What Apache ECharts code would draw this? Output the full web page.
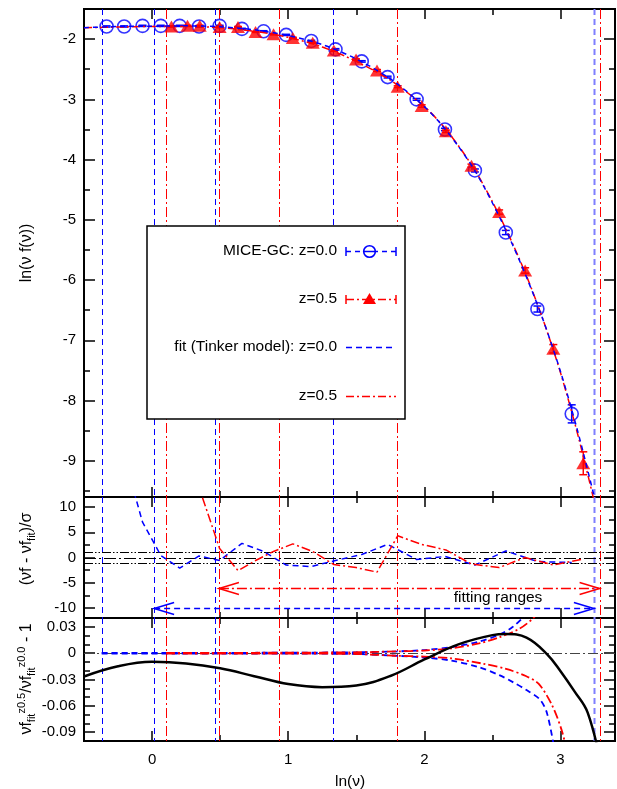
<!DOCTYPE html>
<html><head><meta charset="utf-8">
<script src="https://cdn.jsdelivr.net/npm/echarts@6/dist/echarts.min.js"></script>
<style>html,body{margin:0;padding:0;background:#fff}#c{width:617px;height:789px}</style>
</head><body><div id="c"></div>
<script>
// ---------- data ----------
const circX = [-0.334,-0.205,-0.070,0.064,0.203,0.345,0.496,0.660,0.819,0.985,1.169,1.347,1.540,1.730,1.943,2.151,2.371,2.598,2.830,3.082];
const circY = [-1.79,-1.79,-1.78,-1.78,-1.78,-1.79,-1.78,-1.83,-1.87,-1.93,-2.03,-2.17,-2.37,-2.63,-3.00,-3.50,-4.18,-5.21,-6.48,-8.22];
const circErr = [0.01,0.01,0.01,0.01,0.01,0.01,0.01,0.01,0.01,0.01,0.01,0.012,0.012,0.015,0.015,0.02,0.025,0.035,0.05,0.15];
const triX = [0.142,0.260,0.350,0.496,0.631,0.760,0.892,1.034,1.180,1.335,1.498,1.652,1.804,1.980,2.158,2.346,2.549,2.740,2.947,3.167];
const triY = [-1.79,-1.78,-1.78,-1.80,-1.80,-1.88,-1.92,-1.98,-2.06,-2.19,-2.34,-2.52,-2.79,-3.11,-3.53,-4.10,-4.87,-5.84,-7.14,-9.04];
const triErr = [0.01,0.01,0.01,0.01,0.01,0.01,0.01,0.01,0.01,0.012,0.012,0.015,0.015,0.02,0.02,0.025,0.035,0.045,0.07,0.19];
const fitX = [-0.5,-0.25,0,0.25,0.5,0.75,1.0,1.25,1.5,1.75,2.0,2.125,2.25,2.375,2.5,2.625,2.75,2.875,3.0,3.125,3.25,3.35];
const fitZ0 = [-1.81,-1.79,-1.785,-1.78,-1.795,-1.845,-1.94,-2.09,-2.33,-2.66,-3.12,-3.42,-3.78,-4.20,-4.72,-5.30,-5.95,-6.68,-7.52,-8.50,-9.62,-10.6];
const fitZ05 = [-1.81,-1.80,-1.79,-1.79,-1.81,-1.87,-1.97,-2.13,-2.37,-2.68,-3.12,-3.41,-3.77,-4.19,-4.70,-5.28,-5.93,-6.68,-7.54,-8.55,-9.70,-10.7];
const residZ0 = [30,20,7,0.4,-2.1,0.3,-0.6,2.8,1.2,-1.5,-1.8,-0.6,0.6,2.6,-0.4,0.2,-1.5,1.3,-0.8,-1.0];
const residZ05 = [45,28,13.5,1.8,-2.6,-0.6,1.2,2.7,1.2,-1.4,-2.0,-2.9,4.3,2.6,1.5,-1.3,-2.0,0.0,-1.5,-0.3];
const ratioX = [-0.5,-0.25,0,0.25,0.5,0.75,1.0,1.25,1.5,1.75,2.0,2.25,2.5,2.6,2.75,2.9,3.0,3.1,3.2,3.3];
const ratioY = [-0.0266,-0.0150,-0.0099,-0.0117,-0.0172,-0.0262,-0.0352,-0.0387,-0.0368,-0.0260,-0.0072,0.0100,0.0205,0.0217,0.0177,-0.001,-0.0205,-0.043,-0.068,-0.13];
const envZ0UpX = [-0.37,0.5,1.0,1.5,1.8,2.0,2.2,2.4,2.55,2.65,2.75,2.85];
const envZ0Up = [0.0004,0.0004,0.0005,0.001,0.002,0.0035,0.007,0.013,0.021,0.030,0.045,0.065];
const envZ0LoX = [-0.37,0.5,1.0,1.5,1.8,2.0,2.2,2.4,2.55,2.65,2.75,2.85,2.9,2.95];
const envZ0Lo = [-0.0004,-0.0004,-0.0005,-0.001,-0.003,-0.005,-0.0085,-0.016,-0.025,-0.033,-0.042,-0.053,-0.068,-0.105];
const envZ05UpX = [0.103,0.5,1.0,1.5,1.8,2.0,2.2,2.4,2.55,2.7,2.8,2.9];
const envZ05Up = [0.0004,0.0004,0.0005,0.001,0.002,0.003,0.0055,0.011,0.018,0.028,0.040,0.058];
const envZ05LoX = [0.103,0.5,1.0,1.5,1.8,2.0,2.2,2.43,2.6,2.745,2.84,2.94,3.013,3.05];
const envZ05Lo = [-0.0004,-0.0004,-0.0005,-0.001,-0.003,-0.004,-0.006,-0.012,-0.018,-0.026,-0.035,-0.060,-0.090,-0.115];
const linesZ0 = [-0.371,0.015,0.465,1.327];
const lineZ0End = [3.245];
const linesZ05 = [0.103,0.491,0.931,1.801,3.287];
const rangeZ0 = [0.015,3.245,-10];
const rangeZ05 = [0.491,3.287,-6];
const xMajor = [0,1,2,3], xMinor = [0.5,1.5,2.5];
const y0Major = [-9,-8,-7,-6,-5,-4,-3,-2], y0Minor = [-9.5,-8.5,-7.5,-6.5,-5.5,-4.5,-3.5,-2.5];
const y1Major = [-10,-5,0,5,10], y1Minor = [-7.5,-2.5,2.5,7.5];
const y2Major = [-0.09,-0.06,-0.03,0,0.03], y2Minor = [-0.08,-0.07,-0.05,-0.04,-0.02,-0.01,0.01,0.02];

// ---------- helpers ----------
const FONT = 'Liberation Sans';
const BLUE = '#0000ff', RED = '#ff0000';
const DASH = [6,4], DASHDOT = [9,3,2,3];
const zip = (a, b) => a.map((v, i) => [v, b[i]]);
const grids = [
  {left:84, right:2, top:9, height:488},
  {left:84, right:2, top:497, height:121},
  {left:84, right:2, top:618, height:123}
].map(g => Object.assign(g, {show:true, borderColor:'#000', borderWidth:2, backgroundColor:'transparent', outerBoundsMode:'none'}));
const yr = [[-9.6,-1.5],[-12,12],[-0.1,0.04]];
const yTicks = [[y0Major,y0Minor],[y1Major,y1Minor],[y2Major,y2Minor]];
const yFmt = [v => String(v), v => String(v), v => v === 0 ? '0' : v.toFixed(2)];
const tickStyle = {color:'#000', width:1.5};
const lbl = {color:'#000', fontSize:15, fontFamily:FONT};
const xAxes = [], yAxes = [];
for (let g = 0; g < 3; g++) {
  [['bottom', xMajor, 10, g === 2], ['bottom', xMinor, 6, false], ['top', xMajor, 10, false], ['top', xMinor, 6, false]].forEach(([pos, vals, len, show]) => {
    xAxes.push({type:'value', gridIndex:g, position:pos, min:-0.5, max:3.4,
      axisLine:{show:false, onZero:false}, splitLine:{show:false},
      axisTick:{show:true, inside:true, length:len, customValues:vals, lineStyle:tickStyle},
      axisLabel:Object.assign({show:show, customValues:vals, margin:11}, lbl)});
  });
  [['left', yTicks[g][0], 11, true], ['left', yTicks[g][1], 6, false], ['right', yTicks[g][0], 11, false], ['right', yTicks[g][1], 6, false]].forEach(([pos, vals, len, show]) => {
    yAxes.push({type:'value', gridIndex:g, position:pos, min:yr[g][0], max:yr[g][1],
      axisLine:{show:false, onZero:false}, splitLine:{show:false},
      axisTick:{show:true, inside:true, length:len, customValues:vals, lineStyle:tickStyle},
      axisLabel:Object.assign({show:show, customValues:vals, margin:8, formatter:yFmt[g]}, lbl)});
  });
}
function vlines(g, vals, color, dash, width) {
  return {type:'custom', xAxisIndex:4*g, yAxisIndex:4*g, silent:true, z:1, clip:true,
    data: vals.map(v => [v, yr[g][0]]),
    renderItem: (p, api) => {
      const cs = p.coordSys; const x = Math.round(api.coord([api.value(0), yr[g][0]])[0]) + 0.5;
      return {type:'line', shape:{x1:x, y1:cs.y, x2:x, y2:cs.y + cs.height}, style:{stroke:color, lineWidth:width, lineDash:dash}};
    }};
}
function hlines(g, vals, color, dash, width) {
  return {type:'custom', xAxisIndex:4*g, yAxisIndex:4*g, silent:true, z:1, clip:true,
    data: vals.map(v => [0, v]),
    renderItem: (p, api) => {
      const cs = p.coordSys; const y = Math.round(api.coord([0, api.value(1)])[1]) + 0.5;
      return {type:'line', shape:{x1:cs.x, y1:y, x2:cs.x + cs.width, y2:y}, style:{stroke:color, lineWidth:width, lineDash:dash}};
    }};
}
function errbars(xs, ys, es, color) {
  return {type:'custom', xAxisIndex:0, yAxisIndex:0, silent:true, z:3, clip:true,
    data: xs.map((x, i) => [x, ys[i], es[i]]),
    renderItem: (p, api) => {
      const x = api.value(0), y = api.value(1), e = api.value(2);
      const a = api.coord([x, y + e]), b = api.coord([x, y - e]); const w = 4;
      const st = {stroke:color, lineWidth:1.5};
      return {type:'group', children:[
        {type:'line', shape:{x1:a[0], y1:a[1], x2:b[0], y2:b[1]}, style:st},
        {type:'line', shape:{x1:a[0]-w, y1:a[1], x2:a[0]+w, y2:a[1]}, style:st},
        {type:'line', shape:{x1:b[0]-w, y1:b[1], x2:b[0]+w, y2:b[1]}, style:st}]};
    }};
}
function arrow(r, color, dash) {
  return {type:'custom', xAxisIndex:4, yAxisIndex:4, silent:true, z:4, clip:false,
    encode:{x:[0,1], y:2}, data:[r],
    renderItem: (p, api) => {
      const a = api.coord([api.value(0), api.value(2)]), b = api.coord([api.value(1), api.value(2)]);
      const y = Math.round(a[1]) + 0.5, L = 20, H = 6;
      const st = {stroke:color, lineWidth:1.5};
      return {type:'group', children:[
        {type:'line', shape:{x1:a[0], y1:y, x2:b[0], y2:y}, style:{stroke:color, lineWidth:1.5, lineDash:dash}},
        {type:'polyline', shape:{points:[[a[0]+L, y-H],[a[0], y],[a[0]+L, y+H]]}, style:Object.assign({fill:'none'}, st)},
        {type:'polyline', shape:{points:[[b[0]-L, y-H],[b[0], y],[b[0]-L, y+H]]}, style:Object.assign({fill:'none'}, st)}]};
    }};
}
function curve(g, xs, ys, color, dash, width, z, smooth) {
  return {type:'line', xAxisIndex:4*g, yAxisIndex:4*g, data:zip(xs, ys), showSymbol:false, symbol:'none',
    smooth:smooth, silent:true, z:z, clip:true, lineStyle:{color:color, width:width, type:dash}};
}

const series = [];
for (let g = 0; g < 3; g++) {
  series.push(vlines(g, linesZ0, BLUE, [6,4], 1));
  series.push(vlines(g, lineZ0End, '#7f7fff', [6,4], 2));
  series.push(vlines(g, linesZ05, RED, [10,3,2,3], 1));
}
// top panel
series.push(errbars(circX, circY, circErr, BLUE));
series.push({type:'scatter', xAxisIndex:0, yAxisIndex:0, data:zip(circX, circY), symbol:'circle', symbolSize:13, z:3, silent:true,
  itemStyle:{color:'rgba(0,0,0,0)', borderColor:BLUE, borderWidth:1.6}});
series.push(errbars(triX, triY, triErr, RED));
series.push({type:'scatter', xAxisIndex:0, yAxisIndex:0, data:zip(triX, triY), symbol:'triangle', symbolSize:[14,12], z:3, silent:true,
  itemStyle:{color:RED}});
series.push(curve(0, fitX, fitZ05, RED, [8,3,2,3], 1.5, 4, 0.3));
series.push(curve(0, fitX, fitZ0, BLUE, [5,4], 1.5, 4, 0.3));
// middle panel
series.push(hlines(1, [0], '#000', [12,3,2,3], 1));
series.push(hlines(1, [1,-1], '#000', [9,2,1.5,2,1.5,2], 1));
series.push(curve(1, circX, residZ0, BLUE, DASH, 1.5, 3, false));
series.push(curve(1, triX, residZ05, RED, DASHDOT, 1.5, 3, false));
series.push(arrow(rangeZ05, RED, [10,3,2,3]));
series.push(arrow(rangeZ0, BLUE, [6,4]));
// bottom panel
series.push(hlines(2, [0], '#444', [10,3,2,3], 1));
series.push(curve(2, envZ0UpX, envZ0Up, BLUE, DASH, 1.8, 3, 0.3));
series.push(curve(2, envZ0LoX, envZ0Lo, BLUE, DASH, 1.8, 3, 0.3));
series.push(curve(2, envZ05UpX, envZ05Up, RED, DASHDOT, 1.8, 3, 0.3));
series.push(curve(2, envZ05LoX, envZ05Lo, RED, DASHDOT, 1.8, 3, 0.3));
series.push(curve(2, ratioX, ratioY, '#000', 'solid', 2.5, 4, 0.4));

// ---------- text / legend ----------
const tfont = {fontFamily:FONT, fontSize:15.5, fill:'#000'};
const graphic = [
  {type:'text', x:27, y:253, rotation:Math.PI/2, z:50,
    style:Object.assign({text:'ln(ν f(ν))', align:'center', verticalAlign:'middle'}, tfont, {fontSize:16})},
  {type:'text', x:27, y:549, rotation:Math.PI/2, z:50,
    style:Object.assign({text:'(νf - νf{s|fit})/σ', align:'center', verticalAlign:'middle', lineHeight:21,
      rich:{s:{fontSize:11, fontFamily:FONT, verticalAlign:'bottom'}}}, tfont, {fontSize:16})},
  {type:'text', x:27, y:679, rotation:Math.PI/2, z:50,
    style:Object.assign({text:'νf{s|fit}{p|z0.5}/νf{s|fit}{p|z0.0} - 1', align:'center', verticalAlign:'middle', lineHeight:21,
      rich:{s:{fontSize:11, fontFamily:FONT, verticalAlign:'bottom'}, p:{fontSize:11, fontFamily:FONT, verticalAlign:'top'}}}, tfont, {fontSize:16})},
  {type:'text', x:350, y:782, z:50, style:Object.assign({text:'ln(ν)', align:'center', verticalAlign:'middle'}, tfont)},
  {type:'text', x:498, y:598, z:50, style:Object.assign({text:'fitting ranges', align:'center', verticalAlign:'middle'}, tfont)},
  // legend box
  {type:'rect', z:60, shape:{x:147, y:226, width:258, height:193}, style:{fill:'#fff', stroke:'#000', lineWidth:1.5}},
  {type:'text', x:337, y:251, z:61, style:Object.assign({text:'MICE-GC: z=0.0', align:'right', verticalAlign:'middle'}, tfont)},
  {type:'text', x:337, y:299, z:61, style:Object.assign({text:'z=0.5', align:'right', verticalAlign:'middle'}, tfont)},
  {type:'text', x:337, y:347, z:61, style:Object.assign({text:'fit (Tinker model): z=0.0', align:'right', verticalAlign:'middle'}, tfont)},
  {type:'text', x:337, y:396, z:61, style:Object.assign({text:'z=0.5', align:'right', verticalAlign:'middle'}, tfont)},
  // sample 1
  {type:'line', z:61, shape:{x1:346, y1:251.5, x2:396, y2:251.5}, style:{stroke:BLUE, lineWidth:1.5, lineDash:[5,4]}},
  {type:'line', z:61, shape:{x1:346, y1:247, x2:346, y2:256}, style:{stroke:BLUE, lineWidth:1.5}},
  {type:'line', z:61, shape:{x1:396, y1:247, x2:396, y2:256}, style:{stroke:BLUE, lineWidth:1.5}},
  {type:'circle', z:62, shape:{cx:369.5, cy:251.5, r:5.8}, style:{fill:'#fff', stroke:BLUE, lineWidth:1.6}},
  {type:'line', z:63, shape:{x1:363.7, y1:251.5, x2:375.3, y2:251.5}, style:{stroke:BLUE, lineWidth:1.5}},
  // sample 2
  {type:'line', z:61, shape:{x1:346, y1:299.5, x2:396, y2:299.5}, style:{stroke:RED, lineWidth:1.5, lineDash:[8,3,2,3]}},
  {type:'line', z:61, shape:{x1:346, y1:295, x2:346, y2:304}, style:{stroke:RED, lineWidth:1.5}},
  {type:'line', z:61, shape:{x1:396, y1:295, x2:396, y2:304}, style:{stroke:RED, lineWidth:1.5}},
  {type:'polygon', z:62, shape:{points:[[363,304],[376,304],[369.5,293]]}, style:{fill:RED}},
  // sample 3, 4
  {type:'line', z:61, shape:{x1:346, y1:347.5, x2:396, y2:347.5}, style:{stroke:BLUE, lineWidth:1.5, lineDash:[6,4]}},
  {type:'line', z:61, shape:{x1:346, y1:396.5, x2:396, y2:396.5}, style:{stroke:RED, lineWidth:1.5, lineDash:[8,3,2,3]}}
];

const chart = echarts.init(document.getElementById('c'), null, {renderer:'canvas'});
chart.setOption({animation:false, backgroundColor:'#fff', grid:grids, xAxis:xAxes, yAxis:yAxes, series:series, graphic:graphic});
</script></body></html>
